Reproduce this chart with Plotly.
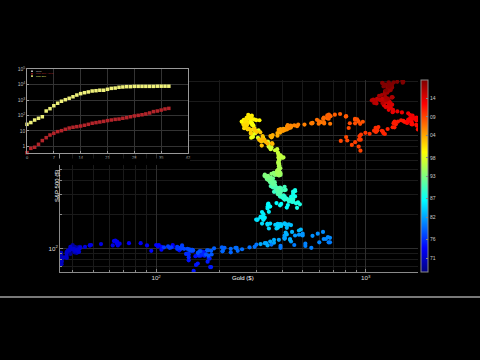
import plotly.graph_objects as go
import pandas as pd

# ---------------- main scatter data (monthly, Jan 1968 - Oct 2019) ----------------
gold = [
    35.2, 35.2, 39.0, 38.0, 41.5, 41.0, 39.5, 39.0, 39.5, 39.5, 40.0, 41.0,   # 1968
    42.5, 42.5, 43.0, 43.3, 43.5, 41.5, 41.8, 41.0, 40.8, 40.5, 37.5, 35.2,   # 1969
    34.9, 35.0, 35.1, 35.7, 35.5, 35.4, 35.3, 35.4, 36.2, 37.5, 37.4, 37.4,   # 1970
    37.9, 38.7, 38.9, 39.0, 40.5, 40.1, 41.0, 42.7, 42.0, 42.5, 42.9, 43.5,   # 1971
    45.8, 48.3, 48.3, 49.0, 54.6, 62.1, 65.7, 67.0, 65.5, 64.9, 62.9, 63.9,   # 1972
    65.1, 74.2, 84.4, 90.5, 102, 120, 120, 106, 103, 100, 94.8, 106,          # 1973
    129, 150, 168, 172, 163, 154, 143, 155, 151, 158, 181, 183,               # 1974
    176, 180, 178, 170, 167, 164, 166, 160, 143, 143, 142, 139,               # 1975
    131, 131, 132, 128, 126, 126, 118, 109, 114, 116, 131, 133,               # 1976
    133, 136, 148, 149, 147, 141, 144, 145, 150, 158, 162, 161,               # 1977
    173, 178, 184, 175, 177, 183, 189, 206, 212, 227, 207, 208,               # 1978
    227, 245, 242, 239, 257, 279, 295, 301, 355, 392, 392, 456,               # 1979
    675, 665, 550, 515, 515, 600, 645, 630, 675, 660, 625, 590,               # 1980
    557, 500, 500, 495, 480, 460, 410, 410, 440, 435, 410, 410,               # 1981
    385, 365, 330, 350, 335, 315, 340, 365, 435, 420, 415, 445,               # 1982
    480, 490, 420, 430, 440, 410, 425, 415, 410, 395, 380, 390,               # 1983
    370, 385, 395, 380, 375, 380, 345, 350, 340, 340, 340, 320,               # 1984
    303, 300, 305, 325, 315, 315, 318, 330, 325, 325, 325, 320,               # 1985
    345, 340, 345, 340, 342, 343, 350, 375, 420, 425, 395, 390,               # 1986
    410, 400, 410, 440, 460, 450, 450, 460, 460, 465, 470, 485,               # 1987
    475, 440, 445, 450, 450, 450, 435, 430, 410, 405, 420, 420,               # 1988
    405, 390, 390, 385, 370, 365, 375, 365, 360, 370, 390, 410,               # 1989
    410, 415, 395, 375, 370, 352, 362, 395, 390, 380, 382, 378,               # 1990
    385, 365, 360, 357, 357, 367, 368, 356, 349, 358, 360, 361,               # 1991
    354, 354, 345, 338, 337, 340, 353, 343, 345, 345, 335, 334,               # 1992
    329, 330, 330, 342, 367, 372, 392, 379, 355, 364, 374, 383,               # 1993
    387, 382, 384, 378, 381, 386, 385, 380, 392, 389, 384, 379,               # 1994
    379, 377, 382, 391, 385, 387, 386, 383, 383, 383, 386, 387,               # 1995
    400, 405, 396, 393, 392, 385, 383, 387, 383, 381, 378, 369,               # 1996
    355, 347, 352, 344, 344, 341, 324, 324, 323, 325, 306, 289,               # 1997
    289, 297, 296, 308, 299, 292, 293, 284, 289, 296, 294, 291,               # 1998
    287, 287, 286, 282, 277, 262, 256, 257, 265, 311, 293, 283,               # 1999
    284, 300, 286, 280, 275, 285, 282, 275, 273, 270, 266, 272,               # 2000
    266, 262, 263, 261, 272, 270, 268, 273, 283, 283, 276, 276,               # 2001
    282, 296, 294, 302, 314, 322, 314, 310, 319, 317, 320, 333,               # 2002
    357, 359, 340, 329, 355, 356, 351, 360, 379, 379, 390, 407,               # 2003
    414, 405, 406, 404, 384, 392, 398, 400, 406, 420, 439, 442,               # 2004
    424, 423, 434, 429, 422, 431, 424, 438, 456, 470, 476, 510,               # 2005
    549, 555, 557, 610, 676, 596, 633, 632, 598, 585, 627, 629,               # 2006
    631, 665, 655, 679, 667, 655, 665, 665, 712, 754, 806, 803,               # 2007
    889, 923, 968, 909, 888, 889, 940, 839, 829, 806, 760, 816,               # 2008
    858, 943, 925, 890, 928, 946, 934, 949, 996, 1043, 1127, 1135,            # 2009
    1118, 1095, 1114, 1148, 1205, 1233, 1193, 1215, 1271, 1343, 1370, 1391,   # 2010
    1356, 1372, 1424, 1473, 1510, 1529, 1573, 1756, 1772, 1666, 1739, 1652,   # 2011
    1656, 1742, 1673, 1650, 1585, 1596, 1594, 1626, 1744, 1747, 1722, 1688,   # 2012
    1671, 1627, 1593, 1487, 1414, 1343, 1286, 1347, 1349, 1316, 1275, 1221,   # 2013
    1244, 1300, 1336, 1299, 1287, 1279, 1311, 1296, 1239, 1222, 1176, 1202,   # 2014
    1251, 1227, 1179, 1198, 1199, 1181, 1131, 1117, 1125, 1159, 1086, 1068,   # 2015
    1097, 1200, 1246, 1243, 1260, 1276, 1337, 1341, 1326, 1266, 1238, 1157,   # 2016
    1192, 1234, 1231, 1266, 1246, 1260, 1236, 1283, 1315, 1280, 1283, 1265,   # 2017
    1331, 1331, 1325, 1335, 1303, 1282, 1238, 1202, 1198, 1215, 1221, 1250,   # 2018
    1291, 1320, 1300, 1285, 1284, 1359, 1413, 1500, 1510, 1495,               # 2019
]

sp500 = [
    92, 89, 90, 97, 98, 100, 98, 99, 103, 103, 108, 104,                      # 1968
    103, 98, 101, 104, 103, 98, 92, 96, 93, 97, 94, 92,                       # 1969
    85, 90, 90, 82, 77, 73, 78, 82, 84, 83, 87, 92,                           # 1970
    96, 97, 100, 104, 100, 99, 96, 99, 98, 94, 94, 102,                       # 1971
    104, 107, 107, 108, 110, 107, 107, 111, 111, 112, 117, 118,               # 1972
    116, 112, 112, 107, 105, 104, 108, 104, 108, 108, 96, 98,                 # 1973
    97, 96, 94, 90, 87, 86, 79, 72, 64, 74, 69, 69,                           # 1974
    77, 82, 83, 87, 91, 95, 89, 87, 84, 89, 91, 90,                           # 1975
    101, 100, 103, 102, 100, 104, 103, 103, 105, 102, 102, 107,               # 1976
    102, 100, 98, 98, 96, 100, 99, 97, 97, 92, 95, 95,                        # 1977
    89, 87, 89, 97, 97, 96, 101, 103, 102, 93, 95, 96,                        # 1978
    100, 96, 102, 102, 99, 103, 104, 109, 109, 102, 106, 108,                 # 1979
    114, 114, 102, 106, 111, 114, 122, 122, 125, 127, 141, 136,               # 1980
    130, 131, 136, 133, 133, 131, 131, 123, 116, 122, 126, 123,               # 1981
    120, 113, 112, 116, 112, 110, 107, 120, 120, 134, 139, 141,               # 1982
    145, 148, 153, 164, 162, 168, 163, 164, 166, 164, 166, 165,               # 1983
    163, 157, 159, 160, 151, 153, 151, 167, 166, 166, 163, 167,               # 1984
    180, 181, 181, 180, 190, 191, 190, 188, 182, 190, 202, 211,               # 1985
    212, 227, 239, 235, 247, 251, 236, 253, 231, 243, 249, 242,               # 1986
    274, 284, 291, 288, 290, 304, 319, 330, 322, 252, 230, 247,               # 1987
    257, 268, 259, 261, 262, 274, 272, 262, 272, 279, 274, 278,               # 1988
    297, 289, 295, 310, 321, 318, 346, 351, 349, 340, 346, 353,               # 1989
    329, 332, 340, 331, 361, 358, 356, 323, 306, 304, 322, 330,               # 1990
    344, 367, 375, 375, 390, 371, 387, 395, 388, 392, 375, 417,               # 1991
    408, 412, 404, 415, 415, 408, 424, 414, 418, 419, 431, 436,               # 1992
    439, 443, 452, 440, 450, 451, 448, 464, 459, 468, 462, 466,               # 1993
    481, 467, 446, 451, 457, 444, 458, 475, 463, 472, 454, 459,               # 1994
    470, 487, 500, 515, 533, 545, 562, 562, 584, 582, 605, 616,               # 1995
    636, 640, 646, 654, 669, 671, 640, 652, 687, 705, 757, 741,               # 1996
    786, 791, 757, 801, 848, 885, 954, 899, 947, 915, 955, 970,               # 1997
    980, 1049, 1101, 1112, 1091, 1134, 1121, 957, 1017, 1099, 1164, 1229,     # 1998
    1280, 1238, 1286, 1335, 1302, 1373, 1329, 1320, 1283, 1363, 1389, 1469,   # 1999
    1394, 1366, 1499, 1452, 1421, 1455, 1431, 1518, 1437, 1429, 1315, 1320,   # 2000
    1366, 1240, 1160, 1249, 1256, 1224, 1211, 1134, 1041, 1060, 1139, 1148,   # 2001
    1130, 1107, 1147, 1077, 1067, 990, 912, 916, 815, 886, 936, 880,          # 2002
    856, 841, 848, 917, 964, 975, 990, 1008, 996, 1051, 1058, 1112,           # 2003
    1131, 1145, 1126, 1107, 1121, 1141, 1102, 1104, 1115, 1130, 1174, 1212,   # 2004
    1181, 1204, 1181, 1157, 1192, 1191, 1234, 1220, 1229, 1207, 1249, 1248,   # 2005
    1280, 1281, 1295, 1311, 1270, 1270, 1277, 1304, 1336, 1378, 1401, 1418,   # 2006
    1438, 1407, 1421, 1482, 1531, 1503, 1455, 1474, 1527, 1549, 1481, 1468,   # 2007
    1379, 1331, 1323, 1386, 1400, 1280, 1267, 1283, 1165, 969, 896, 903,      # 2008
    826, 735, 798, 873, 919, 919, 987, 1021, 1057, 1036, 1096, 1115,          # 2009
    1074, 1104, 1169, 1187, 1089, 1031, 1102, 1049, 1141, 1183, 1181, 1258,   # 2010
    1286, 1327, 1326, 1364, 1345, 1321, 1292, 1219, 1131, 1253, 1247, 1258,   # 2011
    1312, 1366, 1408, 1398, 1310, 1362, 1379, 1407, 1441, 1412, 1416, 1426,   # 2012
    1498, 1515, 1569, 1598, 1631, 1606, 1686, 1633, 1682, 1757, 1806, 1848,   # 2013
    1783, 1859, 1872, 1884, 1924, 1960, 1931, 2003, 1972, 2018, 2068, 2059,   # 2014
    1995, 2105, 2068, 2086, 2107, 2063, 2104, 1972, 1920, 2079, 2080, 2044,   # 2015
    1940, 1932, 2060, 2065, 2097, 2099, 2174, 2171, 2168, 2126, 2199, 2239,   # 2016
    2279, 2364, 2363, 2384, 2412, 2423, 2470, 2472, 2519, 2575, 2648, 2674,   # 2017
    2824, 2714, 2641, 2648, 2705, 2718, 2816, 2902, 2914, 2712, 2760, 2507,   # 2018
    2704, 2784, 2834, 2946, 2752, 2942, 2980, 2926, 2977, 3038,               # 2019
]

dates = pd.date_range("1968-01-01", periods=len(gold), freq="MS")
year_frac = list(dates.year + (dates.month - 0.5) / 12.0)

# colorbar tick labels (years)
cbar_years = [1971, 1976, 1982, 1987, 1993, 1998, 2004, 2009, 2014]
cbar_labels = ["71", "76", "82", "87", "93", "98", "04", "09", "14"]
color_min, color_max = 1967.3, 2018.9

# ---------------- inset data ----------------
inset_x = list(range(38))
inset_yellow = [27, 35, 51, 66, 83, 195, 275, 427, 617, 832, 1047, 1288, 1622, 2089,
                2570, 2951, 3311, 3802, 3981, 4266, 4266, 4898, 5623, 5888, 6607,
                6918, 7244, 7244, 7586, 7586, 7586, 7586, 7586, 7586, 7762, 7762, 7762, 7762]
inset_red = [0.40, 0.76, 0.89, 1.38, 2.4, 3.7, 5.5, 7.1, 9.1, 10.5, 12.9, 15.5, 17.4,
             19.1, 20.9, 23.4, 26.9, 31.6, 34.7, 38.0, 41.7, 46.8, 51.3, 56.2, 58.9,
             66.1, 72.4, 83.2, 93.3, 102, 112, 126, 145, 178, 195, 224, 263, 288]
inset_names = ["Gold", "S&P 500 / Gold", "S&P 500"]
inset_colors = ["#dddddd", "#b3242a", "#eef07a"]

JET = [[0.0, "#00007f"], [0.125, "#0000ff"], [0.375, "#00ffff"],
       [0.625, "#ffff00"], [0.875, "#ff0000"], [1.0, "#7f0000"]]

FONT = "Liberation Sans, Arial, sans-serif"
W, H = 480, 360
ML, MR, MT, MB = 20, 62, 65, 88
PW, PH = W - ML - MR, H - MT - MB


def px(x):  # pixel x -> paper
    return (x - ML) / PW


def py(y):  # pixel y -> paper
    return (H - MB - y) / PH


fig = go.Figure()

fig.add_trace(go.Scatter(
    x=gold, y=sp500, mode="markers", showlegend=False,
    marker=dict(size=4.2, color=year_frac, colorscale=JET, cmin=color_min, cmax=color_max,
                line=dict(width=0),
                colorbar=dict(x=px(421), xanchor="left", xpad=0, ypad=0,
                              y=0, yanchor="bottom", len=py(80), lenmode="fraction",
                              thickness=7, outlinecolor="#8a8a8a", outlinewidth=1,
                              tickvals=cbar_years, ticktext=cbar_labels,
                              ticks="inside", ticklen=2, tickcolor="#888",
                              tickfont=dict(size=5, color="#cccccc", family=FONT))),
    xaxis="x", yaxis="y"))

# inset traces
fig.add_trace(go.Scatter(x=inset_x, y=inset_red, mode="markers", name=inset_names[1],
                         showlegend=False,
                         marker=dict(symbol="square", size=3.5, color=inset_colors[1]),
                         cliponaxis=False, xaxis="x2", yaxis="y2"))
fig.add_trace(go.Scatter(x=inset_x, y=inset_yellow, mode="markers", name=inset_names[2],
                         showlegend=False,
                         marker=dict(symbol="square", size=3.5, color=inset_colors[2]),
                         cliponaxis=False, xaxis="x2", yaxis="y2"))

axis_common = dict(showline=True, linecolor="#8a8a8a", linewidth=1, zeroline=False,
                   ticks="inside", ticklen=3, tickcolor="#8a8a8a",
                   tickfont=dict(size=5, color="#dddddd", family=FONT))

annotations = [
    dict(text="Gold ($)", x=px(243), y=py(283), xref="paper", yref="paper",
         showarrow=False, font=dict(size=6, color="white", family=FONT)),
    dict(text="S&P 500 ($)", x=px(52), y=py(186), xref="paper", yref="paper",
         textangle=-90, showarrow=False, font=dict(size=6, color="white", family=FONT)),
]
shapes = [
    dict(type="rect", xref="paper", yref="paper", x0=px(55), x1=px(190),
         y0=py(165), y1=py(158.5), fillcolor="black", line=dict(width=0), layer="above"),
    dict(type="line", xref="paper", yref="paper", x0=px(0), x1=px(480),
         y0=py(297), y1=py(297), line=dict(color="#a0a0a0", width=1.5)),
]

# hand-drawn compact legend for the inset
for i, (nm, col) in enumerate(zip(inset_names, inset_colors)):
    yy = 71.3 + 2.4 * i
    shapes.append(dict(type="rect", xref="paper", yref="paper",
                       x0=px(31.2), x1=px(32.8), y0=py(yy + 0.8), y1=py(yy - 0.8),
                       fillcolor=col, line=dict(width=0), layer="above"))
    annotations.append(dict(text=nm, x=px(34), y=py(yy), xref="paper", yref="paper",
                            xanchor="left", yanchor="middle", showarrow=False,
                            font=dict(size=2.5, color=col if i else "#cccccc", family=FONT)))

fig.update_layout(
    width=W, height=H,
    margin=dict(l=ML, r=MR, t=MT, b=MB),
    paper_bgcolor="black", plot_bgcolor="black",
    font=dict(family=FONT, color="#dddddd"),
    showlegend=False,
    xaxis=dict(domain=[px(60), 1.0], anchor="y", type="log", range=[1.5416, 3.249],
               dtick=1, exponentformat="power", showgrid=True, gridcolor="#2e2e2e",
               minor=dict(dtick="D1", showgrid=True, gridcolor="#1a1a1a",
                          ticks="inside", ticklen=2, tickcolor="#8a8a8a"),
               **axis_common),
    yaxis=dict(domain=[0, py(80)], anchor="x", type="log", range=[1.795, 3.49],
               dtick=1, exponentformat="power", showgrid=True, gridcolor="#2e2e2e",
               minor=dict(dtick="D1", showgrid=True, gridcolor="#1a1a1a",
                          ticks="inside", ticklen=2, tickcolor="#8a8a8a"),
               **axis_common),
    xaxis2=dict(domain=[px(27), px(188)], anchor="y2", range=[0, 42], dtick=7,
                showline=True, mirror=True, linecolor="#999", linewidth=1, zeroline=False,
                showgrid=True, gridcolor="#333333", ticks="inside", ticklen=2,
                tickcolor="#999", tickfont=dict(size=4, color="#bbbbbb", family=FONT)),
    yaxis2=dict(domain=[py(153), py(69)], anchor="x2", type="log", range=[-0.42, 5],
                dtick=1, exponentformat="power",
                showline=True, mirror=True, linecolor="#999", linewidth=1, zeroline=False,
                showgrid=True, gridcolor="#333333", ticks="inside", ticklen=2,
                tickcolor="#999", tickfont=dict(size=4, color="#bbbbbb", family=FONT)),
    annotations=annotations,
    shapes=shapes,
)

fig.write_html(
    "out.html",
    config={"displayModeBar": False},
    post_script="document.body.style.margin='0';document.body.style.overflow='hidden';"
                "document.documentElement.style.background='black';",
)
